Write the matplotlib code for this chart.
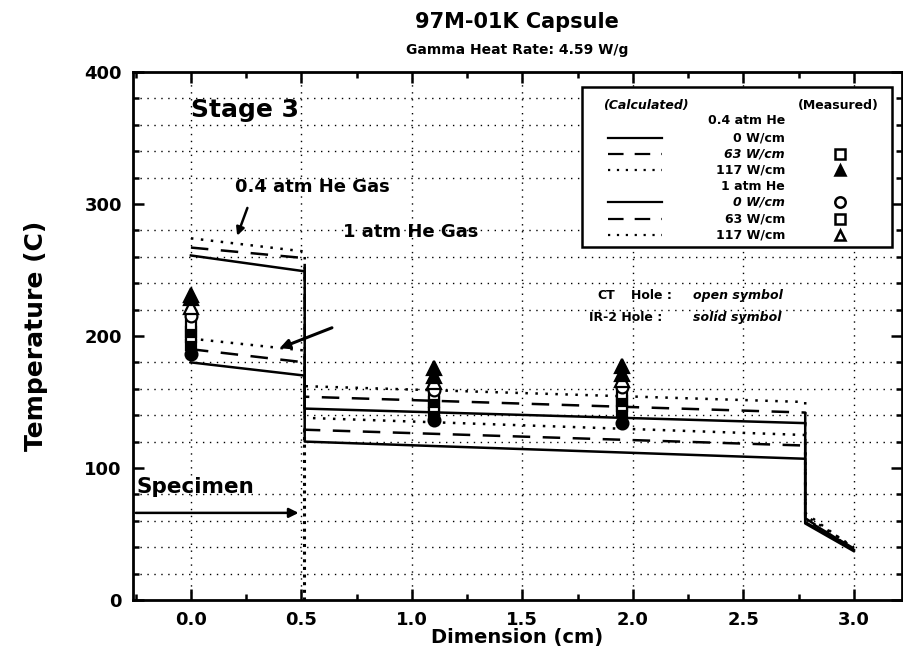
import matplotlib
matplotlib.use("Agg")
import matplotlib.pyplot as plt
from matplotlib.ticker import MultipleLocator
from matplotlib.lines import Line2D
import numpy as np

plt.rcParams['font.family'] = ['DejaVu Sans']

# ---------------- data ----------------
# calculated temperature profiles (x in cm, T in C)
x_prof = [0.0, 0.515, 0.515, 2.78, 2.78, 3.0]
T_04_0 = [261, 249, 145, 134, 59, 38]
T_04_63 = [267, 259, 154, 142, 61, 39]
T_04_117 = [274, 264, 162, 150, 64, 40]
T_1_0 = [180, 170, 120, 107, 58, 37]
T_1_63 = [190, 180, 129, 117, 62, 38]
T_1_117 = [198, 189, 138, 125, 66, 39]

# measured temperatures
x_meas = [0.0, 1.1, 1.95]
solid_tri_hi = [231, 176, 177]
solid_tri_lo = [229, 170, 171]
open_tri = [222, 165, 167]
open_circ = [215, 159, 161]
open_sq_hi = [208, 155, 156]
solid_sq_hi = [203, 150, 151]
open_sq_lo = [199, 146, 147]
solid_sq_lo = [193, 142, 143]
solid_circ = [186, 136, 134]

x_ticks = [0.0, 0.5, 1.0, 1.5, 2.0, 2.5, 3.0]
x_tick_labels = ["0.0", "0.5", "1.0", "1.5", "2.0", "2.5", "3.0"]
y_ticks = [0, 100, 200, 300, 400]

specimen_T = 66
specimen_end = 0.5

# ---------------- figure ----------------
fig = plt.figure(figsize=(9.04, 6.70), dpi=100)
ax = fig.add_axes([133/904, 1-600/670, 769/904, 528/670])
ax.set_xlim(-0.262, 3.218)
ax.set_ylim(0, 400)

ax.grid(True, which='major', axis='x', color='black', linestyle=(0, (1, 4)), linewidth=1.0)
ax.set_yticks(np.arange(0, 401, 20), minor=True)
ax.grid(True, which='minor', axis='y', color='black', linestyle=(0, (1, 4)), linewidth=1.0)
ax.set_axisbelow(True)

dash = (0, (7, 5))
dot = (0, (1, 3))
K = 'black'
ax.plot(x_prof, T_04_0, color=K, lw=1.8, ls='-')
ax.plot(x_prof, T_04_63, color=K, lw=1.8, ls=dash)
ax.plot(x_prof, T_04_117, color=K, lw=1.8, ls=dot)
ax.plot(x_prof, T_1_0, color=K, lw=1.8, ls='-')
ax.plot(x_prof, T_1_63, color=K, lw=1.8, ls=dash)
ax.plot(x_prof, T_1_117, color=K, lw=1.8, ls=dot)

ms = 8.5
mk = dict(linestyle='none', color=K, markeredgewidth=1.6, zorder=5)
ax.plot(x_meas, solid_circ, marker='o', markersize=ms, markerfacecolor=K, **mk)
ax.plot(x_meas, solid_sq_lo, marker='s', markersize=ms-1, markerfacecolor=K, **mk)
ax.plot(x_meas, open_sq_lo, marker='s', markersize=ms-1, markerfacecolor='white', **mk)
ax.plot(x_meas, solid_sq_hi, marker='s', markersize=ms-1, markerfacecolor=K, **mk)
ax.plot(x_meas, open_sq_hi, marker='s', markersize=ms-1, markerfacecolor='white', **mk)
ax.plot(x_meas, open_circ, marker='o', markersize=ms, markerfacecolor='white', **mk)
ax.plot(x_meas, open_tri, marker='^', markersize=ms+1, markerfacecolor='white', **mk)
ax.plot(x_meas, solid_tri_lo, marker='^', markersize=ms+1, markerfacecolor=K, **mk)
ax.plot(x_meas, solid_tri_hi, marker='^', markersize=ms+1.5, markerfacecolor=K, **mk)

# specimen boundary and arrow
ax.plot([specimen_end + 0.01, specimen_end + 0.01], [0, 130], color=K, lw=2.2, ls=(0, (1, 1.5)))
ax.annotate('', xy=(specimen_end, specimen_T), xytext=(-0.262, specimen_T),
            arrowprops=dict(arrowstyle='-|>', color=K, lw=1.8, mutation_scale=14))
ax.text(-0.245, 78, 'Specimen', fontsize=15.5, fontweight='bold', ha='left', va='bottom')

ax.text(0.0, 371, 'Stage 3', fontsize=18, fontweight='bold', ha='left', va='center')
ax.text(0.2, 313, '0.4 atm He Gas', fontsize=13, fontweight='bold', ha='left', va='center')
ax.annotate('', xy=(0.205, 274), xytext=(0.26, 299),
            arrowprops=dict(arrowstyle='-|>', color=K, lw=1.8, mutation_scale=12))
ax.text(0.69, 279, '1 atm He Gas', fontsize=13, fontweight='bold', ha='left', va='center')
ax.annotate('', xy=(0.39, 190), xytext=(0.65, 207),
            arrowprops=dict(arrowstyle='-|>', color=K, lw=2.2, mutation_scale=14))

ax.text(1.84, 231, 'CT', fontsize=9, fontweight='bold', ha='left', va='center')
ax.text(1.99, 231, 'Hole :', fontsize=9, fontweight='bold', ha='left', va='center')
ax.text(2.27, 231, 'open symbol', fontsize=9, fontstyle='italic', fontweight='bold', ha='left', va='center')
ax.text(1.80, 214, 'IR-2 Hole :', fontsize=9, fontweight='bold', ha='left', va='center')
ax.text(2.27, 214, 'solid symbol', fontsize=9, fontstyle='italic', fontweight='bold', ha='left', va='center')

# ---------------- legend box (manual) ----------------
def fx(px):
    return (px - 133) / 769

def fy(py):
    return (600 - py) / 528

T = ax.transAxes
ax.add_patch(plt.Rectangle((fx(582), fy(247)), fx(892) - fx(582), fy(87) - fy(247),
                           transform=T, facecolor='white', edgecolor=K, lw=1.8, zorder=6))
lf = dict(transform=T, fontsize=9, fontweight='bold', zorder=7, va='center')
ax.text(fx(603), fy(105), '(Calculated)', ha='left', fontstyle='italic', **lf)
ax.text(fx(879), fy(105), '(Measured)', ha='right', **lf)
rows = [121, 138, 154, 170, 186, 202, 219, 235]
labels = ['0.4 atm He', '0 W/cm', '63 W/cm', '117 W/cm', '1 atm He', '0 W/cm', '63 W/cm', '117 W/cm']
italic = [False, False, True, False, False, True, False, False]
styles = [None, '-', dash, dot, None, '-', dash, dot]
markers = [None, None, ('s', 'white'), ('^', K), None, ('o', 'white'), ('s', 'white'), ('^', 'white')]
for r, lab, it, st, m in zip(rows, labels, italic, styles, markers):
    ax.text(fx(785), fy(r), lab, ha='right', fontstyle='italic' if it else 'normal', **lf)
    if st is not None:
        ax.add_line(Line2D([fx(608), fx(662)], [fy(r), fy(r)], transform=T, color=K,
                           lw=1.6, ls=st, zorder=7))
    if m is not None:
        ax.add_line(Line2D([fx(840)], [fy(r)], transform=T, marker=m[0], markersize=7.5,
                           markerfacecolor=m[1], markeredgecolor=K, markeredgewidth=1.8,
                           ls='none', zorder=7))

# ---------------- axes styling ----------------
ax.set_xticks(x_ticks)
ax.set_xticklabels(x_tick_labels)
ax.xaxis.set_minor_locator(MultipleLocator(0.25))
ax.set_yticks(y_ticks)
ax.tick_params(which='both', direction='in', top=True, right=True, width=1.8, color=K)
ax.tick_params(which='major', length=8, labelsize=13, pad=8)
ax.tick_params(which='minor', length=4)
for lab in ax.get_xticklabels() + ax.get_yticklabels():
    lab.set_fontweight('bold')
for s in ax.spines.values():
    s.set_linewidth(2.0)

ax.set_xlabel('Dimension (cm)', fontsize=14, fontweight='bold', labelpad=-1)
ax.set_ylabel('Temperature (C)', fontsize=18, fontweight='bold', labelpad=26)

fig.text(517/904, 1-22/670, '97M-01K Capsule', fontsize=15, fontweight='bold', ha='center', va='center')
fig.text(517/904, 1-50/670, 'Gamma Heat Rate: 4.59 W/g', fontsize=10, fontweight='bold', ha='center', va='center')

fig.savefig('out.png', dpi=100)
